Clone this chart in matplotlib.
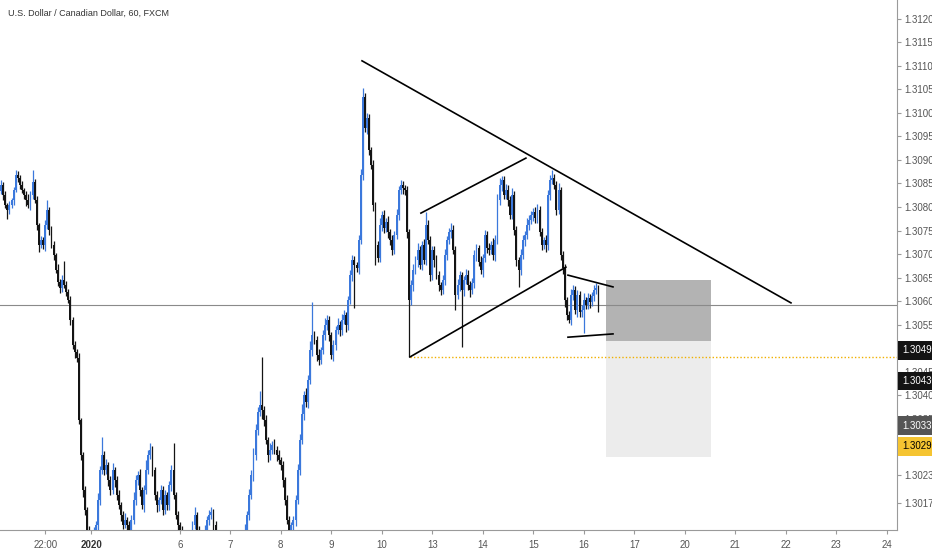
import matplotlib.pyplot as plt
import numpy as np

plt.rcParams['font.family'] = ['Liberation Sans', 'DejaVu Sans']

# hourly USDCAD closes (bar index 0 = left edge)
closes = [
    1.30847, 1.30826, 1.30804, 1.30794, 1.30804,
    1.30815, 1.30836, 1.30868, 1.30862, 1.30847,
    1.30836, 1.30826, 1.30815, 1.30804, 1.30826,
    1.30853, 1.30815, 1.30762, 1.30719, 1.30730,
    1.30719, 1.30762, 1.30794, 1.30751, 1.30719,
    1.30698, 1.30666, 1.30640, 1.30628, 1.30645,
    1.30634, 1.30619, 1.30602, 1.30560, 1.30506,
    1.30491, 1.30479, 1.30347, 1.30272, 1.30198,
    1.30155, 1.30113, 1.30081, 1.30091, 1.30113,
    1.30123, 1.30177, 1.30240, 1.30272, 1.30240,
    1.30251, 1.30219, 1.30198, 1.30240, 1.30219,
    1.30187, 1.30166, 1.30145, 1.30123, 1.30134,
    1.30123, 1.30113, 1.30134, 1.30177, 1.30219,
    1.30230, 1.30198, 1.30166, 1.30198, 1.30240,
    1.30272, 1.30283, 1.30240, 1.30187, 1.30166,
    1.30177, 1.30198, 1.30155, 1.30187, 1.30166,
    1.30208, 1.30240, 1.30187, 1.30145, 1.30123,
    1.30113, 1.30091, 1.30081, 1.30102, 1.30091,
    1.30102, 1.30123, 1.30145, 1.30113, 1.30091,
    1.30081, 1.30091, 1.30113, 1.30134, 1.30145,
    1.30151, 1.30123, 1.30091, 1.30070, 1.30059,
    1.30049, 1.30038, 1.30049, 1.30059, 1.30070,
    1.30070, 1.30081, 1.30091, 1.30081, 1.30102,
    1.30091, 1.30113, 1.30145, 1.30187, 1.30230,
    1.30272, 1.30326, 1.30364, 1.30379, 1.30368,
    1.30347, 1.30304, 1.30272, 1.30283, 1.30294,
    1.30283, 1.30272, 1.30262, 1.30251, 1.30219,
    1.30177, 1.30134, 1.30113, 1.30123, 1.30134,
    1.30177, 1.30240, 1.30304, 1.30360, 1.30400,
    1.30385, 1.30432, 1.30496, 1.30528, 1.30517,
    1.30485, 1.30474, 1.30496, 1.30528, 1.30549,
    1.30560, 1.30528, 1.30485, 1.30506, 1.30538,
    1.30549, 1.30538, 1.30560, 1.30570, 1.30549,
    1.30602, 1.30655, 1.30687, 1.30677, 1.30670,
    1.30730, 1.30868, 1.31034, 1.30968, 1.30989,
    1.30921, 1.30889, 1.30804, 1.30719, 1.30692,
    1.30762, 1.30783, 1.30755, 1.30768, 1.30747,
    1.30730, 1.30709, 1.30740, 1.30783, 1.30836,
    1.30847, 1.30840, 1.30836, 1.30747, 1.30602,
    1.30634, 1.30666, 1.30687, 1.30709, 1.30677,
    1.30719, 1.30687, 1.30762, 1.30730, 1.30655,
    1.30709, 1.30687, 1.30655, 1.30634, 1.30623,
    1.30645, 1.30698, 1.30730, 1.30747, 1.30751,
    1.30709, 1.30613, 1.30634, 1.30655, 1.30623,
    1.30645, 1.30655, 1.30634, 1.30623, 1.30638,
    1.30698, 1.30713, 1.30683, 1.30666, 1.30692,
    1.30740, 1.30713, 1.30709, 1.30719, 1.30698,
    1.30730, 1.30815, 1.30847, 1.30857, 1.30826,
    1.30836, 1.30815, 1.30783, 1.30826, 1.30751,
    1.30687, 1.30666, 1.30698, 1.30730, 1.30740,
    1.30762, 1.30772, 1.30783, 1.30789, 1.30777,
    1.30794, 1.30747, 1.30719, 1.30730, 1.30719,
    1.30826, 1.30857, 1.30862, 1.30847, 1.30794,
    1.30836, 1.30698, 1.30670, 1.30602, 1.30570,
    1.30560, 1.30613, 1.30623, 1.30581, 1.30613,
    1.30577, 1.30581, 1.30602, 1.30591, 1.30606,
    1.30598, 1.30611, 1.30623, 1.30628, 1.30591,
]
first_open = 1.30835

# wick lengths above / below the body, in points (0.00001)
hi_wick = [
    10, 6, 8, 4, 9,  5, 7, 11, 8, 6,  9, 5, 7, 12, 8,  26, 6, 9, 5, 8,
    7, 10, 21, 6, 8,  9, 5, 12, 7, 10,  40, 8, 6, 9, 5,  8, 6, 10, 5, 7,
    9, 6, 8, 12, 7,  10, 14, 9, 38, 8,  12, 7, 9, 15, 6,  8, 10, 6, 9, 14,
    7, 9, 11, 16, 10,  8, 12, 7, 10, 22,  10, 14, 8, 6, 9,  7, 11, 8, 10, 6,
    9, 12, 58, 7, 8,  6, 9, 7, 10, 8,  7, 9, 17, 6, 8,  9, 7, 10, 8, 11,
    10, 7, 9, 6, 8,  7, 9, 6, 8, 10,  8, 6, 9, 7, 10,  9, 12, 8, 14, 10,
    16, 12, 10, 30, 102,  8, 10, 7, 14, 9,  12, 8, 10, 6, 9,  7, 10, 8, 6, 9,
    10, 14, 12, 20, 9,  15, 10, 18, 70, 8,  9, 12, 7, 10, 14,  10, 8, 6, 12, 9,
    15, 8, 12, 10, 7,  9, 12, 10, 8, 6,  10, 12, 19, 8, 10,  9, 7, 10, 6, 8,
    14, 9, 10, 8, 12,  7, 10, 9, 12, 8,  10, 8, 6, 9, 7,  10, 12, 8, 14, 9,
    8, 12, 27, 10, 8,  9, 7, 10, 8, 6,  10, 12, 9, 8, 14,  10, 8, 12, 9, 7,
    8, 14, 10, 9, 12,  10, 9, 7, 12, 8,  12, 8, 10, 9, 14,  10, 12, 15, 8, 9,
    12, 10, 8, 14, 7,  9, 7, 12, 10, 8,  14, 10, 8, 9, 12,  12, 8, 9, 7, 10,
    10, 12, 17, 8, 9,  14, 7, 9, 8, 6,  8, 12, 10, 9, 11,  8, 10, 14, 7, 10,
    9, 8, 12, 10, 6,
]
lo_wick = [
    8, 12, 6, 20, 9,  7, 10, 5, 9, 8,  6, 9, 12, 7, 10,  8, 6, 10, 14, 7,
    9, 12, 8, 10, 6,  10, 7, 9, 12, 8,  6, 9, 7, 10, 8,  12, 9, 8, 10, 15,
    10, 12, 9, 14, 8,  9, 10, 12, 8, 11,  7, 12, 10, 9, 14,  10, 8, 12, 9, 7,
    12, 9, 10, 8, 11,  10, 12, 9, 14, 8,  9, 8, 12, 10, 14,  12, 9, 10, 8, 11,
    10, 12, 9, 8, 14,  9, 10, 12, 8, 10,  11, 9, 8, 12, 10,  10, 12, 9, 8, 11,
    9, 10, 12, 8, 10,  10, 9, 12, 8, 11,  12, 8, 10, 9, 11,  10, 12, 9, 11, 8,
    14, 10, 12, 9, 20,  12, 9, 14, 10, 8,  9, 12, 8, 10, 14,  10, 9, 12, 14, 10,
    12, 8, 10, 9, 14,  10, 12, 8, 14, 9,  12, 10, 9, 8, 12,  10, 14, 9, 12, 10,
    8, 12, 10, 9, 14,  10, 8, 12, 92, 9,  12, 9, 10, 8, 12,  10, 9, 12, 42, 10,
    9, 12, 10, 8, 14,  10, 12, 9, 8, 10,  9, 12, 10, 14, 121,  10, 12, 9, 14, 8,
    12, 9, 10, 8, 12,  10, 14, 9, 12, 10,  8, 12, 10, 9, 14,  10, 32, 9, 12, 121,
    12, 9, 10, 14, 8,  10, 12, 9, 8, 14,  9, 10, 12, 8, 10,  12, 9, 10, 14, 8,
    10, 12, 9, 8, 10,  12, 36, 10, 9, 12,  8, 10, 9, 12, 10,  12, 9, 10, 8, 14,
    10, 12, 9, 8, 12,  9, 10, 12, 14, 10,  7, 12, 10, 9, 14,  10, 12, 49, 9, 8,
    12, 9, 10, 8, 14,
]

# axis labels
price_ticks = [1.31200, 1.31150, 1.31100, 1.31050, 1.31000, 1.30950, 1.30900,
               1.30850, 1.30800, 1.30750, 1.30700, 1.30650, 1.30600, 1.30550,
               1.30450, 1.30400, 1.30350, 1.30230, 1.30170]
date_pos = [21, 43, 85, 109, 133, 157, 181, 205, 229, 253, 277, 301, 325, 349, 373, 397, 421]
date_labels = ['22:00', '2020', '6', '7', '8', '9', '10', '13', '14', '15', '16',
               '17', '20', '21', '22', '23', '24']

# price labels on the scale
scale_labels = ['1.30495', '1.30430', '1.30335', '1.30291']
scale_prices = [1.30495, 1.30430, 1.30335, 1.30291]
scale_colors = ['#131313', '#131313', '#555555', '#f5c431']
scale_text = ['white', 'white', 'white', 'black']

# drawings (bar index, price)
trend_x = [171.6, 375.5]
trend_y = [1.31111, 1.30596]
chan_up_x = [199.6, 249.5]
chan_up_y = [1.30787, 1.30904]
chan_lo_x = [194.4, 268.5]
chan_lo_y = [1.30481, 1.30672]
flag_up_x = [269.5, 290.9]
flag_up_y = [1.30655, 1.30630]
flag_lo_x = [269.5, 290.9]
flag_lo_y = [1.30523, 1.30530]
last_price = 1.30591
low_level = 1.30481
pos_x = [287.5, 337.5]
pos_stop, pos_entry, pos_target = 1.30645, 1.30515, 1.30268

closes = np.array(closes)
opens = np.concatenate([[first_open], closes[:-1]])
highs = np.maximum(opens, closes) + np.array(hi_wick) * 1e-5
lows = np.minimum(opens, closes) - np.array(lo_wick) * 1e-5
idx = np.arange(len(closes))
up = closes >= opens
colors = np.where(up, '#3b78dc', '#141414')

fig = plt.figure(figsize=(9.32, 5.5), dpi=100)
ax = fig.add_axes([0, 20 / 550, 897 / 932, 530 / 550])
ax.set_xlim(-0.48, 425.9)
ax.set_ylim(1.301128, 1.312404)

# position tool boxes
ax.fill_between(pos_x, pos_entry, pos_stop, color='#b3b3b3', lw=0, zorder=1)
ax.fill_between(pos_x, pos_target, pos_entry, color='#ececec', lw=0, zorder=1)

ax.axhline(last_price, color='#8a8a8a', lw=0.8, zorder=2)
ax.hlines(low_level, chan_lo_x[0], 425.9, colors='#f0b000', lw=1, linestyles=(0, (1, 1.5)), zorder=2)

# candles
ax.vlines(idx, lows, highs, colors=colors, lw=0.9, zorder=3)
body = np.abs(closes - opens)
body = np.maximum(body, 0.00002)
ax.bar(idx, body, bottom=np.minimum(opens, closes), width=0.9, color=colors, lw=0, zorder=3)

for xs, ys in [(trend_x, trend_y), (chan_up_x, chan_up_y), (chan_lo_x, chan_lo_y),
               (flag_up_x, flag_up_y), (flag_lo_x, flag_lo_y)]:
    ax.plot(xs, ys, color='black', lw=1.2, zorder=4)

# axes styling
for s in ['top', 'left']:
    ax.spines[s].set_visible(False)
ax.spines['right'].set_color('#9a9a9a')
ax.spines['bottom'].set_color('#9a9a9a')
ax.yaxis.tick_right()
ax.set_yticks(price_ticks)
ax.set_yticklabels(['%.5f' % p for p in price_ticks])
ax.tick_params(axis='y', direction='out', length=3, pad=2, colors='#9a9a9a',
               labelcolor='#555555', labelsize=7)
ax.set_xticks(date_pos)
ax.set_xticklabels(date_labels)
ax.tick_params(axis='x', direction='out', length=3, pad=4, colors='#9a9a9a',
               labelcolor='#555555', labelsize=7)
for lab in ax.get_xticklabels():
    if lab.get_text() == '2020':
        lab.set_fontweight('bold')
        lab.set_color('#333333')

trans = ax.get_yaxis_transform()
for lab, p, c, tc in zip(scale_labels, scale_prices, scale_colors, scale_text):
    ax.text(1.0 + 5 / 897, p, lab, transform=trans, fontsize=7, color=tc,
            va='center', ha='left', clip_on=False, zorder=6,
            bbox=dict(boxstyle='square,pad=0.45', fc=c, ec='none'))

fig.text(8 / 932, 1 - 13 / 550, 'U.S. Dollar / Canadian Dollar, 60, FXCM',
         fontsize=6.5, color='#333333', va='center', ha='left')

fig.savefig('out.png', dpi=100)
